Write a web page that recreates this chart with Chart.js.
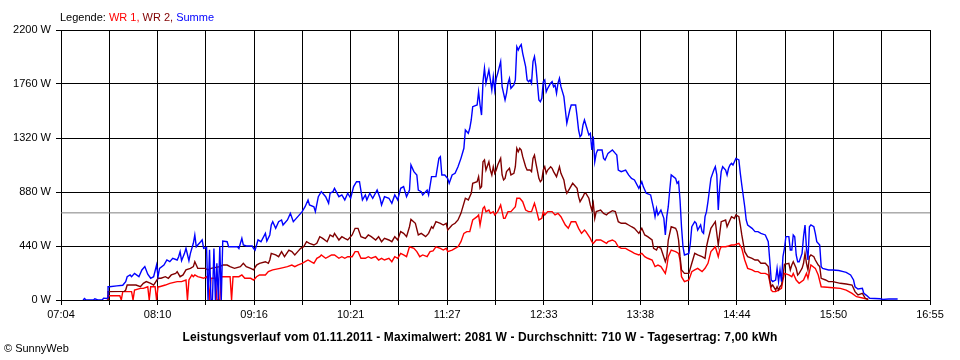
<!DOCTYPE html>
<html>
<head>
<meta charset="utf-8">
<script src="https://cdn.jsdelivr.net/npm/chart.js@4/dist/chart.umd.min.js"></script>
<style>
  html, body { margin: 0; padding: 0; background: #fff; }
</style>
</head>
<body>
<canvas id="leistung" width="960" height="360"></canvas>
<script>
// Achsen
var zeitLabels = ['07:04', '08:10', '09:16', '10:21', '11:27', '12:33', '13:38', '14:44', '15:50', '16:55'];
var leistungTicks = [0, 440, 880, 1320, 1760, 2200];
var durchschnitt = 710;

// WR 1 (rot)
var zeitWR1 = ['07:36','07:36','07:44','07:45','07:46','07:52','07:53','07:54','07:58','08:00','08:03','08:04','08:05','08:08','08:09','08:10','08:11','08:15','08:18','08:23','08:26','08:29','08:30','08:31','08:33','08:34','08:35','08:37','08:41','08:43','08:44','08:45','08:46','08:49','08:50','08:52','08:53','08:59','09:00','09:01','09:05','09:07','09:09','09:13','09:15','09:17','09:19','09:23','09:25','09:28','09:33','09:38','09:41','09:43','09:45','09:48','09:50','09:52','09:54','09:56','09:58','10:00','10:01','10:04','10:06','10:08','10:10','10:13','10:15','10:17','10:19','10:22','10:24','10:26','10:28','10:31','10:33','10:35','10:38','10:40','10:42','10:44','10:47','10:49','10:51','10:53','10:55','10:57','10:59','11:01','11:04','11:06','11:08','11:10','11:13','11:15','11:17','11:19','11:22','11:24','11:26','11:27','11:30','11:32','11:34','11:36','11:38','11:40','11:42','11:44','11:47','11:48','11:49','11:51','11:52','11:53','11:55','11:56','11:58','11:59','12:01','12:03','12:05','12:06','12:08','12:10','12:13','12:14','12:16','12:18','12:20','12:22','12:24','12:26','12:27','12:29','12:31','12:32','12:33','12:35','12:38','12:40','12:42','12:44','12:47','12:49','12:51','12:54','12:56','12:58','13:00','13:01','13:04','13:05','13:06','13:08','13:11','13:13','13:15','13:16','13:19','13:21','13:23','13:25','13:28','13:30','13:32','13:34','13:37','13:39','13:41','13:43','13:46','13:48','13:50','13:52','13:55','13:56','13:57','13:59','14:02','14:04','14:05','14:06','14:08','14:11','14:13','14:15','14:17','14:20','14:22','14:24','14:26','14:29','14:31','14:32','14:33','14:36','14:38','14:40','14:42','14:45','14:47','14:49','14:51','14:54','14:56','14:58','15:00','15:03','15:05','15:06','15:07','15:08','15:10','15:12','15:14','15:15','15:16','15:19','15:21','15:22','15:24','15:26','15:29','15:31','15:32','15:34','15:37','15:39','15:41','15:45','15:49','15:54','15:58','16:02','16:05','16:10','16:13'];
var wr1 = [0,35,35,0,68,68,0,81,95,95,108,0,108,108,0,108,108,122,136,150,150,163,0,163,204,190,204,190,177,190,163,0,177,177,0,0,190,190,0,190,190,204,177,177,163,190,204,204,231,245,258,272,285,272,285,299,312,326,312,299,340,353,367,340,353,367,367,340,353,340,353,353,394,394,340,340,353,340,353,326,340,326,340,312,353,340,380,367,353,434,421,394,353,367,353,394,400,434,421,407,421,394,407,421,434,475,543,557,557,652,679,693,611,747,760,720,733,706,720,693,720,774,665,665,720,720,760,829,829,801,733,720,720,788,747,652,665,720,693,720,720,693,706,679,611,584,638,638,584,543,570,557,502,475,461,489,489,475,461,475,489,475,434,421,421,407,394,380,367,380,353,340,326,272,285,272,217,272,353,407,394,380,326,190,150,163,231,245,258,231,258,299,394,434,353,407,434,434,440,448,448,462,421,326,258,245,231,231,217,217,204,150,81,68,68,81,95,163,217,204,190,217,163,136,163,217,177,285,258,204,108,104,100,95,81,54,27,14,5];

// WR 2 (dunkelrot)
var zeitWR2 = ['07:36','07:36','07:47','07:48','07:49','07:55','07:58','08:00','08:02','08:05','08:07','08:10','08:12','08:15','08:17','08:19','08:22','08:23','08:25','08:27','08:29','08:32','08:34','08:35','08:36','08:37','08:40','08:42','08:44','08:46','08:52','08:54','08:57','08:59','09:02','09:06','09:08','09:10','09:13','09:15','09:17','09:19','09:23','09:25','09:26','09:27','09:30','09:32','09:34','09:36','09:39','09:41','09:43','09:45','09:47','09:49','09:51','09:53','09:56','09:58','10:00','10:02','10:05','10:07','10:09','10:10','10:13','10:15','10:17','10:19','10:22','10:24','10:26','10:28','10:31','10:33','10:35','10:38','10:40','10:42','10:44','10:47','10:49','10:51','10:53','10:55','10:57','10:59','11:01','11:02','11:05','11:07','11:09','11:12','11:14','11:16','11:17','11:19','11:22','11:24','11:26','11:27','11:30','11:32','11:34','11:36','11:39','11:41','11:43','11:44','11:47','11:48','11:49','11:50','11:51','11:52','11:53','11:55','11:56','11:57','11:58','11:59','12:00','12:01','12:03','12:04','12:05','12:06','12:07','12:09','12:10','12:12','12:13','12:14','12:15','12:16','12:17','12:18','12:20','12:21','12:23','12:24','12:25','12:26','12:27','12:29','12:30','12:31','12:32','12:33','12:34','12:35','12:37','12:38','12:39','12:41','12:43','12:44','12:46','12:47','12:48','12:50','12:52','12:55','12:56','12:57','12:59','13:00','13:01','13:03','13:04','13:05','13:06','13:07','13:08','13:11','13:13','13:15','13:16','13:19','13:21','13:23','13:25','13:28','13:30','13:32','13:34','13:37','13:39','13:41','13:43','13:46','13:47','13:49','13:50','13:52','13:55','13:56','13:57','13:59','14:02','14:03','14:04','14:05','14:06','14:08','14:11','14:13','14:15','14:17','14:20','14:22','14:23','14:24','14:26','14:29','14:31','14:32','14:33','14:36','14:37','14:38','14:40','14:42','14:43','14:45','14:46','14:47','14:49','14:51','14:54','14:56','14:58','15:00','15:03','15:05','15:06','15:07','15:08','15:10','15:11','15:12','15:13','15:14','15:15','15:16','15:19','15:20','15:21','15:22','15:24','15:25','15:26','15:28','15:29','15:30','15:31','15:32','15:33','15:34','15:36','15:37','15:39','15:40','15:41','15:44','15:46','15:49','15:54','15:58','16:02','16:04','16:06','16:09','16:11','16:13'];
var wr2 = [0,68,70,81,122,122,108,136,150,136,122,177,177,190,177,204,217,231,190,204,245,258,272,312,285,258,258,258,245,258,272,285,285,272,258,272,299,272,258,245,285,299,312,299,326,380,367,353,394,353,407,394,367,394,421,434,475,462,448,462,516,502,475,530,516,543,489,516,502,489,530,584,584,516,502,530,516,489,516,475,502,489,475,516,489,557,543,516,597,657,625,530,543,516,543,597,584,638,625,611,625,570,611,625,652,706,829,815,869,951,964,1005,910,924,1127,1141,1059,1127,1059,1019,1086,1032,1059,1100,1154,1019,978,991,1046,1073,1019,1032,1086,1236,1208,1236,1222,1168,1086,1059,1059,1046,1154,1181,1113,991,964,978,1059,1086,1032,1059,1086,1073,1046,1005,1086,1032,978,910,869,910,951,910,842,801,842,869,869,829,774,733,788,665,720,733,706,693,706,728,720,638,625,625,611,597,584,543,584,530,516,489,421,407,434,421,312,353,489,597,584,557,489,353,245,217,217,299,380,367,353,340,434,489,584,638,448,543,638,652,597,625,679,665,693,679,611,530,394,353,340,326,326,299,299,272,163,108,122,81,108,81,108,122,190,290,299,245,285,312,258,204,217,258,299,380,299,245,353,367,353,326,285,272,177,163,150,150,136,130,122,68,41,54,14,5];

// Summe (blau)
var zeitSumme = ['07:19','07:20','07:21','07:26','07:27','07:29','07:32','07:33','07:35','07:36','07:36','07:37','07:42','07:46','07:48','07:49','07:51','07:52','07:54','07:57','07:59','08:01','08:03','08:05','08:07','08:09','08:10','08:11','08:14','08:16','08:18','08:20','08:23','08:24','08:25','08:26','08:28','08:29','08:31','08:32','08:34','08:35','08:36','08:37','08:39','08:40','08:41','08:43','08:44','08:45','08:46','08:47','08:48','08:49','08:50','08:51','08:52','08:53','08:54','08:57','08:58','09:01','09:04','09:05','09:07','09:08','09:10','09:14','09:15','09:16','09:17','09:18','09:20','09:23','09:24','09:26','09:27','09:28','09:30','09:32','09:34','09:35','09:38','09:40','09:42','09:44','09:47','09:48','09:50','09:52','09:53','09:56','09:57','09:59','10:01','10:04','10:06','10:07','10:09','10:10','10:13','10:15','10:17','10:19','10:21','10:23','10:25','10:27','10:29','10:31','10:32','10:34','10:36','10:39','10:41','10:42','10:44','10:47','10:49','10:51','10:53','10:55','10:57','10:59','11:01','11:02','11:04','11:06','11:07','11:09','11:10','11:13','11:14','11:16','11:19','11:21','11:22','11:23','11:25','11:27','11:28','11:30','11:32','11:34','11:36','11:38','11:39','11:41','11:42','11:43','11:44','11:47','11:48','11:49','11:50','11:51','11:52','11:53','11:55','11:56','11:57','11:58','11:59','12:00','12:01','12:03','12:04','12:05','12:06','12:07','12:08','12:09','12:10','12:12','12:13','12:14','12:15','12:16','12:17','12:18','12:20','12:21','12:22','12:23','12:24','12:25','12:26','12:27','12:29','12:30','12:31','12:32','12:33','12:34','12:35','12:37','12:38','12:39','12:40','12:41','12:42','12:43','12:44','12:46','12:47','12:48','12:50','12:51','12:54','12:55','12:56','12:57','12:58','12:59','13:00','13:01','13:03','13:04','13:05','13:06','13:07','13:08','13:09','13:12','13:13','13:14','13:16','13:19','13:21','13:22','13:23','13:25','13:28','13:30','13:32','13:34','13:37','13:39','13:40','13:42','13:45','13:47','13:48','13:49','13:50','13:52','13:54','13:55','13:56','13:57','13:58','13:59','14:02','14:03','14:04','14:05','14:06','14:07','14:08','14:11','14:12','14:13','14:15','14:16','14:17','14:19','14:20','14:21','14:22','14:23','14:24','14:25','14:26','14:28','14:29','14:30','14:31','14:32','14:33','14:34','14:36','14:37','14:38','14:39','14:40','14:41','14:42','14:43','14:45','14:46','14:47','14:49','14:50','14:51','14:54','14:56','14:58','15:00','15:03','15:05','15:06','15:07','15:08','15:10','15:11','15:12','15:13','15:14','15:15','15:16','15:17','15:19','15:20','15:21','15:22','15:23','15:24','15:25','15:26','15:28','15:29','15:30','15:31','15:32','15:33','15:34','15:36','15:37','15:38','15:40','15:41','15:42','15:46','15:49','15:53','15:56','15:58','16:01','16:03','16:04','16:06','16:09','16:10','16:12','16:14','16:21','16:23','16:27','16:33'];
var summe = [0,12,0,0,10,0,0,15,12,20,108,108,115,120,150,190,204,190,217,190,245,272,210,177,190,285,190,258,285,326,312,340,326,353,394,320,380,421,320,380,462,530,434,448,475,490,421,430,0,410,0,0,420,0,300,0,440,0,480,475,434,434,434,420,502,448,440,440,420,407,448,490,475,543,480,530,611,638,584,638,652,611,652,706,638,665,706,720,760,815,774,760,720,842,883,842,788,870,883,910,842,856,815,870,829,924,964,964,815,856,815,870,829,896,829,774,842,829,788,856,815,910,924,842,896,1100,1046,1019,896,883,856,896,856,1005,1005,1154,1168,1019,1019,990,951,1019,1032,1086,1154,1236,1385,1358,1399,1467,1575,1589,1697,1589,1507,1779,1888,1766,1874,1793,1711,1820,1711,1806,1847,1942,1738,1684,1630,1684,1766,1806,1725,1752,1793,2064,2037,2064,2081,2010,1901,1793,1779,1793,1766,1942,1983,1901,1630,1616,1643,1779,1793,1697,1725,1766,1779,1738,1752,1684,1766,1806,1738,1657,1548,1440,1548,1589,1589,1494,1385,1331,1345,1426,1467,1426,1345,1358,1222,1331,1127,1195,1222,1222,1154,1141,1195,1222,1195,1181,1059,1046,1059,1019,991,978,910,964,924,870,856,747,679,747,693,733,665,530,679,760,896,1019,991,951,964,815,597,434,367,380,462,597,638,625,570,611,557,543,679,720,801,896,991,1059,1086,1019,733,924,1046,1086,1059,1019,1073,1100,1113,1100,1127,1154,1141,1032,937,760,652,611,584,557,557,543,530,475,326,163,150,163,258,150,245,150,353,421,516,516,407,407,530,516,367,312,312,380,516,611,421,326,597,611,597,543,475,448,272,258,245,245,240,231,225,204,163,108,90,95,54,36,14,10,5,8,8];

var titel = 'Leistungsverlauf vom 01.11.2011 - Maximalwert: 2081 W - Durchschnitt: 710 W - Tagesertrag: 7,00 kWh';

function minuten(s) {
  var t = s.split(':');
  return parseInt(t[0], 10) * 60 + parseInt(t[1], 10);
}
function punkte(zeiten, werte) {
  return zeiten.map(function (z, i) { return { x: minuten(z), y: werte[i] }; });
}

var xMin = minuten(zeitLabels[0]);
var xMax = minuten(zeitLabels[zeitLabels.length - 1]);
var gitterSchritte = (zeitLabels.length - 1) * 2;

Chart.defaults.font.family = '"Liberation Sans", Arial, sans-serif';
Chart.defaults.font.size = 11;
Chart.defaults.color = '#000';

// Legende, Titel und Copyright als Text
var textPlugin = {
  id: 'texte',
  afterDraw: function (chart) {
    var c = chart.ctx;
    c.save();
    c.font = '11px "Liberation Sans", Arial, sans-serif';
    c.textAlign = 'left';
    c.textBaseline = 'alphabetic';
    var x = 60;
    var teile = [['Legende: ', '#000']];
    [2, 1, 0].forEach(function (i, k) {
      var ds = chart.data.datasets[i];
      teile.push([ds.label + (k < 2 ? ', ' : ''), ds.borderColor]);
    });
    teile.forEach(function (t) {
      c.fillStyle = t[1];
      c.fillText(t[0], x, 21);
      x += c.measureText(t[0]).width;
    });
    c.fillStyle = '#000';
    c.font = 'bold 12px "Liberation Sans", Arial, sans-serif';
    c.textAlign = 'center';
    c.letterSpacing = '0.13px';
    c.fillText(titel, 480, 341);
    c.letterSpacing = '0px';
    c.font = '11px "Liberation Sans", Arial, sans-serif';
    c.textAlign = 'left';
    c.fillText('\u00A9 SunnyWeb', 4, 352);
    c.restore();
  }
};

var ctx = document.getElementById('leistung').getContext('2d');
var chart = new Chart(ctx, {
  type: 'line',
  data: {
    datasets: [
      { label: 'Summe', data: punkte(zeitSumme, summe), borderColor: '#0000ff', borderWidth: 1.4 },
      { label: 'WR 2', data: punkte(zeitWR2, wr2), borderColor: '#800000', borderWidth: 1.4 },
      { label: 'WR 1', data: punkte(zeitWR1, wr1), borderColor: '#ff0000', borderWidth: 1.4 },
      { label: 'Durchschnitt', data: [{ x: xMin, y: durchschnitt }, { x: xMax, y: durchschnitt }], borderColor: '#808080', borderWidth: 1 }
    ]
  },
  options: {
    responsive: false,
    animation: false,
    devicePixelRatio: 1,
    layout: { padding: { top: 30, right: 30, bottom: 40, left: 0 } },
    elements: { point: { radius: 0 }, line: { tension: 0 } },
    plugins: { legend: { display: false }, tooltip: { enabled: false } },
    scales: {
      x: {
        type: 'linear',
        min: xMin,
        max: xMax,
        afterBuildTicks: function (scale) {
          var t = [];
          for (var i = 0; i <= gitterSchritte; i++) t.push({ value: xMin + i * (xMax - xMin) / gitterSchritte });
          scale.ticks = t;
        },
        afterFit: function (scale) { scale.height = 20; },
        grid: { color: '#000', lineWidth: 1, tickLength: 5 },
        border: { color: '#000' },
        ticks: {
          autoSkip: false,
          maxRotation: 0,
          padding: 3,
          callback: function (v, i) { return i % 2 === 0 ? zeitLabels[i / 2] : ''; }
        }
      },
      y: {
        min: leistungTicks[0],
        max: leistungTicks[leistungTicks.length - 1],
        afterBuildTicks: function (scale) {
          scale.ticks = leistungTicks.map(function (v) { return { value: v }; });
        },
        afterFit: function (scale) { scale.width = 61; },
        grid: { color: '#000', lineWidth: 1, tickLength: 5 },
        border: { color: '#000' },
        ticks: {
          padding: 5,
          callback: function (v) { return v + ' W'; }
        }
      }
    }
  },
  plugins: [textPlugin]
});
</script>
</body>
</html>
